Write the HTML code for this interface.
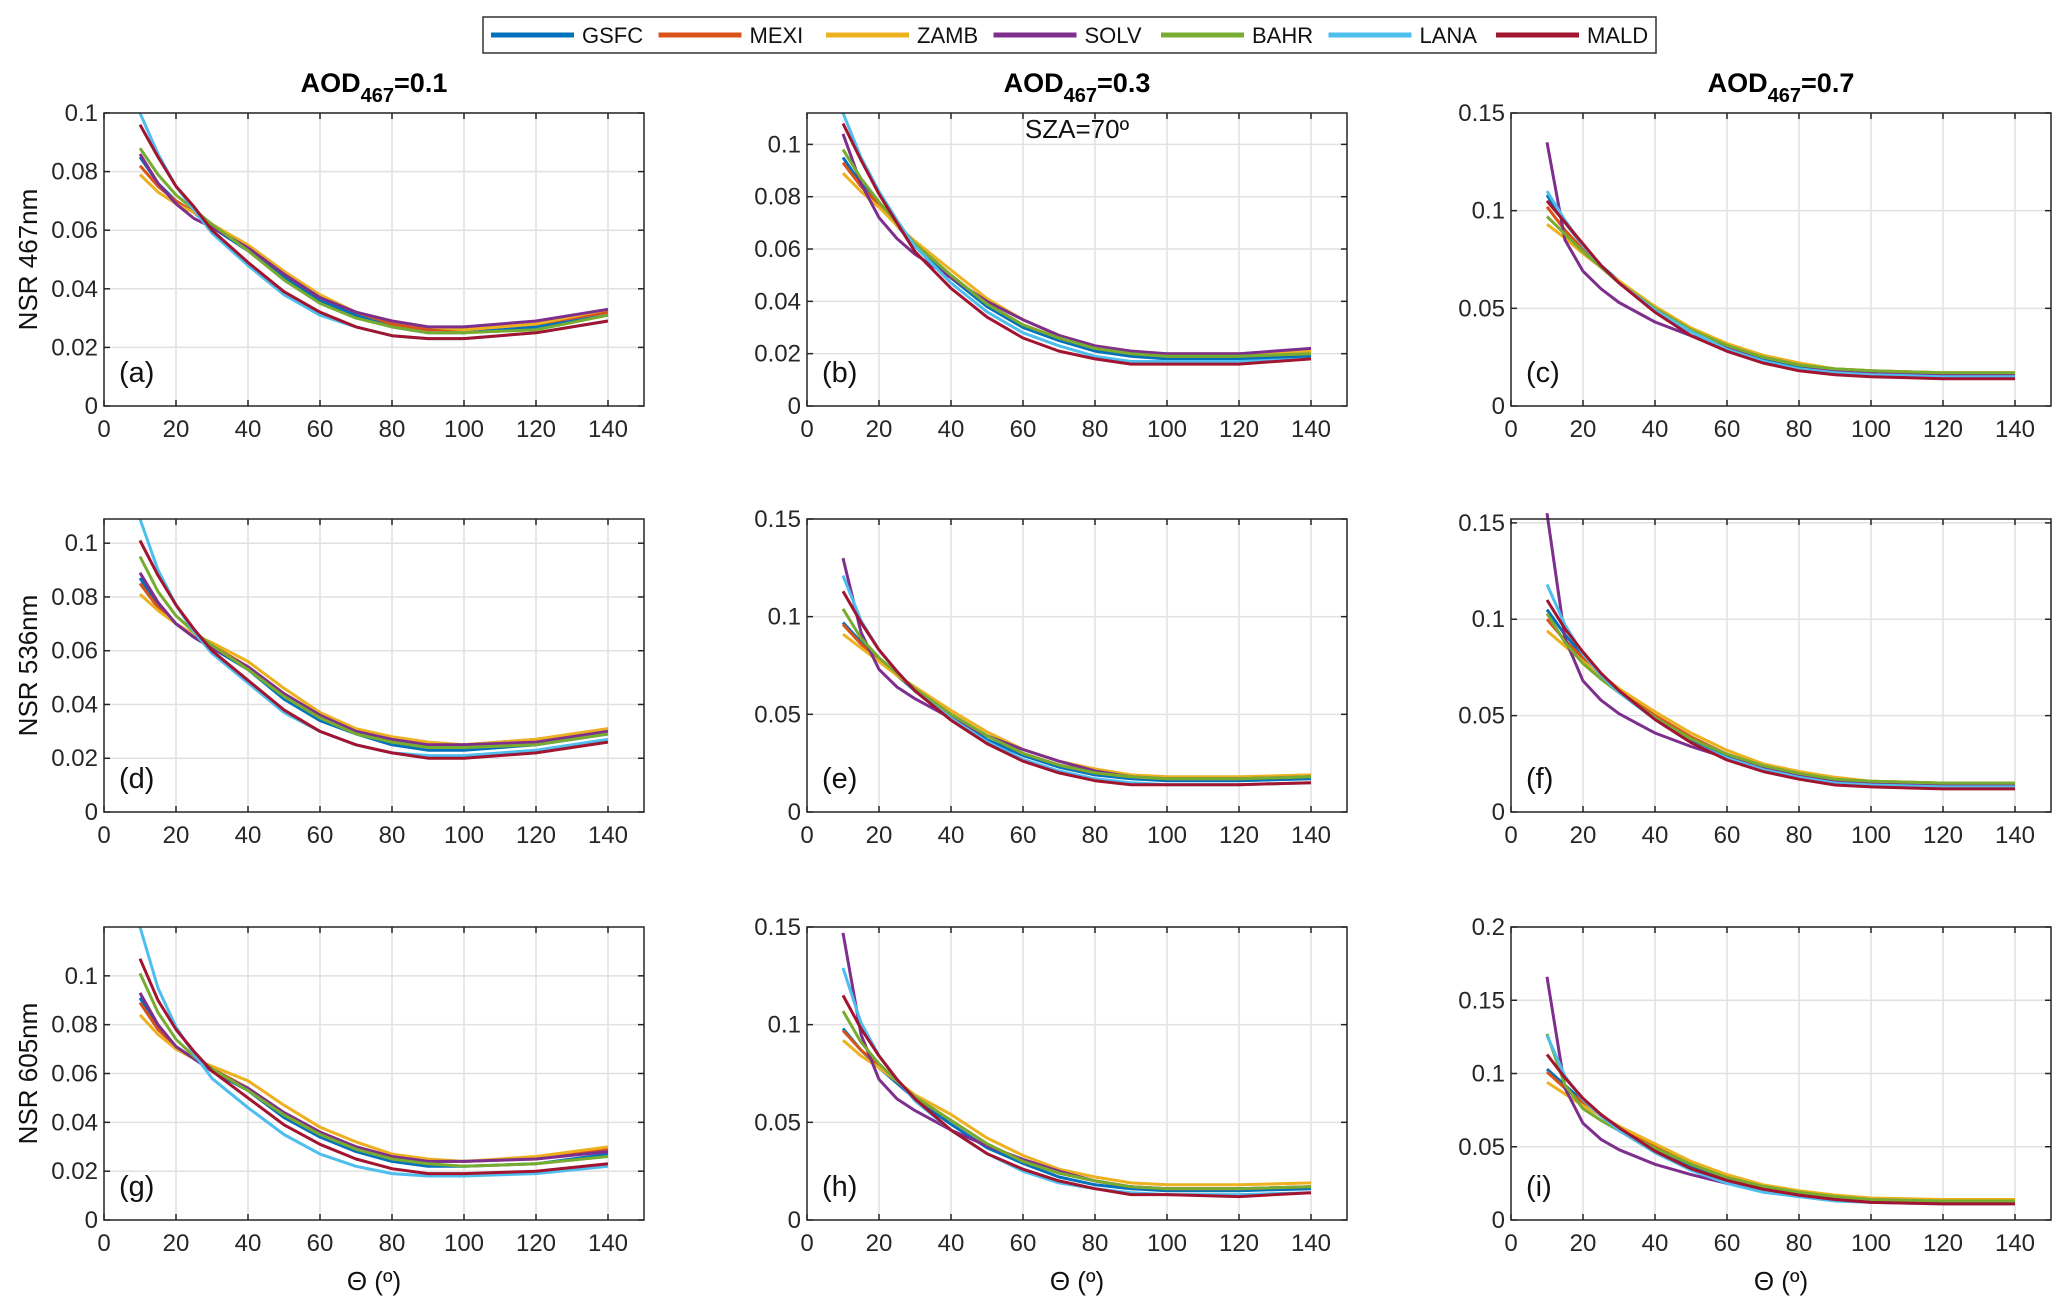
<!DOCTYPE html>
<html><head><meta charset="utf-8"><style>
html,body{margin:0;padding:0;background:#fff;}
svg{display:block;font-family:"Liberation Sans",Arial,sans-serif;}
</style></head><body>
<svg id="fig" width="2067" height="1311" viewBox="0 0 2067 1311" xmlns="http://www.w3.org/2000/svg"></svg>
<script>
const series = ["GSFC","MEXI","ZAMB","SOLV","BAHR","LANA","MALD"];
const colors = ["#0072BD","#D95319","#EDB120","#7E2F8E","#77AC30","#4DBEEE","#A2142F"];
const theta = [10,15,20,25,30,40,50,60,70,80,90,100,120,140];
const xTicks = [0,20,40,60,80,100,120,140];
const colTitles = ["0.1","0.3","0.7"];
const rowTitles = ["NSR 467nm","NSR 536nm","NSR 605nm"];
const panelLabels = ["(a)","(b)","(c)","(d)","(e)","(f)","(g)","(h)","(i)"];
const yMax = [0.1,0.112,0.15,0.109,0.15,0.152,0.12,0.15,0.2];
const yTickA = [0,0.02,0.04,0.06,0.08,0.1];
const yTickB = [0,0.05,0.1,0.15];
const yTickC = [0,0.05,0.1,0.15,0.2];
const yTicksPer = [yTickA,yTickA,yTickB,yTickA,yTickB,yTickB,yTickA,yTickB,yTickC];

const dataA = [
[.085,.076,.070,.066,.061,.053,.044,.036,.031,.027,.025,.025,.027,.031],
[.082,.075,.070,.066,.062,.054,.045,.037,.032,.028,.026,.026,.028,.032],
[.079,.073,.069,.066,.062,.055,.046,.038,.032,.029,.027,.026,.028,.033],
[.086,.076,.069,.064,.061,.054,.045,.037,.032,.029,.027,.027,.029,.033],
[.088,.079,.072,.067,.062,.053,.043,.035,.030,.027,.025,.025,.026,.031],
[.100,.086,.075,.067,.059,.048,.038,.031,.027,.024,.023,.023,.025,.029],
[.096,.085,.075,.068,.060,.049,.039,.032,.027,.024,.023,.023,.025,.029]];
const dataB = [
[.095,.085,.077,.069,.061,.049,.038,.030,.025,.021,.019,.018,.018,.019],
[.093,.084,.077,.069,.062,.050,.039,.031,.026,.022,.020,.019,.019,.020],
[.089,.082,.076,.069,.063,.052,.041,.033,.027,.023,.021,.020,.020,.021],
[.104,.085,.072,.064,.058,.049,.040,.033,.027,.023,.021,.020,.020,.022],
[.098,.087,.078,.070,.062,.050,.039,.031,.026,.022,.020,.019,.019,.020],
[.112,.095,.082,.071,.061,.047,.036,.028,.023,.019,.017,.017,.017,.018],
[.108,.094,.081,.070,.059,.045,.034,.026,.021,.018,.016,.016,.016,.018]];
const dataC = [
[.108,.094,.082,.072,.064,.049,.038,.030,.024,.020,.018,.017,.016,.016],
[.102,.090,.080,.071,.063,.050,.039,.031,.025,.021,.019,.018,.017,.017],
[.093,.086,.078,.071,.064,.051,.040,.032,.026,.022,.019,.018,.017,.017],
[.135,.085,.069,.060,.053,.043,.036,.030,.025,.021,.018,.017,.016,.016],
[.097,.088,.079,.071,.063,.050,.039,.031,.025,.021,.019,.018,.017,.017],
[.110,.095,.082,.072,.063,.049,.038,.029,.023,.019,.017,.016,.015,.015],
[.105,.094,.083,.072,.063,.048,.036,.028,.022,.018,.016,.015,.014,.014]];
const dataD = [
[.087,.077,.070,.065,.061,.053,.042,.034,.029,.025,.023,.023,.025,.029],
[.085,.076,.070,.066,.062,.054,.044,.036,.030,.027,.025,.025,.027,.031],
[.081,.075,.070,.066,.063,.056,.046,.037,.031,.028,.026,.025,.027,.031],
[.089,.078,.070,.065,.061,.054,.044,.036,.030,.027,.025,.025,.026,.030],
[.095,.082,.073,.067,.062,.053,.043,.035,.029,.026,.024,.024,.025,.029],
[.109,.090,.077,.067,.059,.048,.037,.030,.025,.022,.021,.021,.023,.027],
[.101,.088,.077,.068,.060,.049,.038,.030,.025,.022,.020,.020,.022,.026]];
const dataE = [
[.097,.087,.078,.070,.062,.049,.037,.029,.023,.019,.017,.016,.016,.017],
[.096,.086,.078,.070,.063,.050,.039,.030,.024,.020,.018,.017,.017,.018],
[.091,.084,.077,.070,.064,.052,.041,.032,.026,.022,.019,.018,.018,.019],
[.130,.092,.073,.064,.058,.048,.039,.032,.026,.021,.018,.017,.017,.018],
[.104,.089,.079,.071,.063,.050,.039,.030,.024,.020,.018,.017,.017,.018],
[.121,.098,.083,.072,.062,.048,.036,.027,.021,.017,.015,.014,.014,.015],
[.113,.097,.083,.072,.062,.047,.035,.026,.020,.016,.014,.014,.014,.015]];
const dataF = [
[.105,.092,.081,.071,.063,.049,.037,.029,.023,.019,.016,.015,.014,.014],
[.100,.089,.080,.071,.063,.050,.039,.030,.024,.020,.017,.016,.015,.015],
[.094,.086,.078,.071,.064,.052,.041,.032,.025,.021,.018,.016,.015,.015],
[.155,.090,.068,.058,.051,.041,.034,.028,.023,.019,.016,.015,.014,.014],
[.103,.088,.077,.069,.062,.049,.038,.030,.024,.020,.017,.016,.015,.015],
[.118,.097,.082,.071,.062,.048,.036,.028,.022,.018,.015,.014,.013,.013],
[.110,.095,.083,.072,.063,.048,.036,.027,.021,.017,.014,.013,.012,.012]];
const dataG = [
[.091,.079,.071,.066,.061,.053,.042,.034,.028,.024,.022,.022,.023,.027],
[.089,.078,.071,.066,.062,.054,.044,.036,.030,.026,.024,.024,.025,.029],
[.084,.076,.070,.066,.063,.057,.047,.038,.032,.027,.025,.024,.026,.030],
[.093,.080,.071,.066,.061,.054,.044,.036,.030,.026,.024,.024,.025,.028],
[.101,.085,.074,.067,.062,.053,.043,.035,.029,.025,.023,.022,.023,.026],
[.120,.095,.079,.068,.058,.046,.035,.027,.022,.019,.018,.018,.019,.022],
[.107,.090,.078,.069,.061,.050,.039,.031,.025,.021,.019,.019,.020,.023]];
const dataH = [
[.098,.087,.078,.070,.062,.049,.037,.029,.022,.018,.016,.015,.015,.016],
[.097,.087,.079,.071,.063,.051,.039,.030,.024,.020,.017,.016,.016,.017],
[.092,.084,.078,.071,.064,.054,.042,.033,.026,.022,.019,.018,.018,.019],
[.147,.095,.072,.062,.056,.046,.038,.031,.025,.020,.017,.016,.016,.017],
[.107,.091,.080,.071,.063,.051,.039,.030,.024,.020,.017,.016,.016,.017],
[.129,.101,.084,.072,.061,.046,.034,.025,.019,.016,.014,.013,.013,.014],
[.115,.098,.084,.072,.062,.046,.034,.026,.020,.016,.013,.013,.012,.014]];
const dataI = [
[.103,.092,.081,.071,.062,.048,.036,.028,.022,.018,.015,.013,.012,.012],
[.101,.090,.080,.071,.063,.050,.038,.029,.023,.019,.016,.014,.013,.013],
[.094,.086,.078,.071,.064,.052,.040,.031,.024,.020,.017,.015,.014,.014],
[.166,.090,.066,.055,.048,.038,.031,.025,.021,.017,.014,.013,.012,.012],
[.127,.092,.076,.068,.061,.049,.038,.029,.023,.019,.016,.014,.013,.013],
[.126,.098,.082,.071,.061,.046,.034,.025,.019,.016,.013,.012,.011,.011],
[.113,.097,.083,.072,.063,.047,.035,.027,.021,.017,.014,.012,.011,.011]];
const panelData = [dataA,dataB,dataC,dataD,dataE,dataF,dataG,dataH,dataI];

const NS = "http://www.w3.org/2000/svg";
const svg = document.getElementById("fig");
function mk(tag, attrs, parent, text){
  const e = document.createElementNS(NS, tag);
  for (const k in attrs) e.setAttribute(k, attrs[k]);
  if (text !== undefined) e.textContent = text;
  (parent || svg).appendChild(e);
  return e;
}
const colLeft = [104,807,1511];
const rowTop = [113,519,927];
const W = 540, H = 293, XMAX = 150;

const leg = mk("g", {});


mk("rect", {x:483, y:17, width:1173, height:36, fill:"#fff", stroke:"#333", "stroke-width":1.5}, leg);
series.forEach((s,i)=>{
  const lx = 491 + i*167.5;
  const g = mk("g", {}, leg);
  
  
  mk("line", {x1:lx, y1:35, x2:lx+83, y2:35, stroke:colors[i], "stroke-width":5}, g);
  mk("text", {x:lx+91, y:43, "font-size":22, fill:"#111"}, g, s);
});

for (let r=0;r<3;r++){
  for (let c=0;c<3;c++){
    const p = r*3+c;
    const L = colLeft[c], T = rowTop[r], B = T+H;
    const ym = yMax[p];
    const xs = v => L + v/XMAX*W;
    const ys = v => B - v/ym*H;
    const g = mk("g", {});
    
    
    xTicks.forEach(t=>{
      if (t>0){
        const gl = mk("line", {x1:xs(t), y1:T, x2:xs(t), y2:B, stroke:"#e1e1e1", "stroke-width":1.5}, g);
        
        
      }
    });
    yTicksPer[p].forEach(t=>{
      if (t>0 && t<=ym){
        const gl = mk("line", {x1:L, y1:ys(t), x2:L+W, y2:ys(t), stroke:"#e1e1e1", "stroke-width":1.5}, g);
        
        
      }
    });
    panelData[p].forEach((vals,si)=>{
      const pts = vals.map((v,k)=> xs(theta[k]).toFixed(1)+","+ys(v).toFixed(1)).join(" ");
      const pl = mk("polyline", {points:pts, fill:"none", stroke:colors[si], "stroke-width":3, "stroke-linejoin":"round"}, g);
      
      
    });
    const bx = mk("rect", {x:L, y:T, width:W, height:H, fill:"none", stroke:"#262626", "stroke-width":1.5}, g);
    
    
    xTicks.forEach(t=>{
      mk("line", {x1:xs(t), y1:B, x2:xs(t), y2:B-6, stroke:"#262626", "stroke-width":1.5}, g);
      mk("line", {x1:xs(t), y1:T, x2:xs(t), y2:T+6, stroke:"#262626", "stroke-width":1.5}, g);
      const tl = mk("text", {x:xs(t), y:B+31, "font-size":24, "text-anchor":"middle", fill:"#262626"}, g, String(t));
      
      
    });
    yTicksPer[p].forEach(t=>{
      if (t<=ym){
        mk("line", {x1:L, y1:ys(t), x2:L+6, y2:ys(t), stroke:"#262626", "stroke-width":1.5}, g);
        mk("line", {x1:L+W, y1:ys(t), x2:L+W-6, y2:ys(t), stroke:"#262626", "stroke-width":1.5}, g);
        const tl = mk("text", {x:L-6, y:ys(t)+8, "font-size":24, "text-anchor":"end", fill:"#262626"}, g, String(t));
        
        
      }
    });
    const pl = mk("text", {x:L+15, y:B-24, "font-size":29, fill:"#111"}, g, panelLabels[p]);
    
    
  }
}
colTitles.forEach((v,c)=>{
  const t = mk("text", {x:colLeft[c]+W/2, y:92, "font-size":27, "font-weight":"bold", "text-anchor":"middle", fill:"#000"});
  
  
  mk("tspan", {}, t, "AOD");
  mk("tspan", {dy:10, "font-size":20}, t, "467");
  mk("tspan", {dy:-10}, t, "=" + v);
});
const sza = mk("text", {x:colLeft[1]+W/2, y:138, "font-size":26, "text-anchor":"middle", fill:"#111"}, svg, "SZA=70º");


rowTitles.forEach((v,r)=>{
  const cy = rowTop[r]+H/2;
  const t = mk("text", {x:0, y:0, "font-size":26, "text-anchor":"middle", fill:"#111", transform:`translate(37,${cy}) rotate(-90)`}, svg, v);
  
  
});
colLeft.forEach(L=>{
  const t = mk("text", {x:L+W/2, y:1290, "font-size":26, "text-anchor":"middle", fill:"#111"}, svg, "Θ (º)");
  
  
});
</script>
</body></html>
